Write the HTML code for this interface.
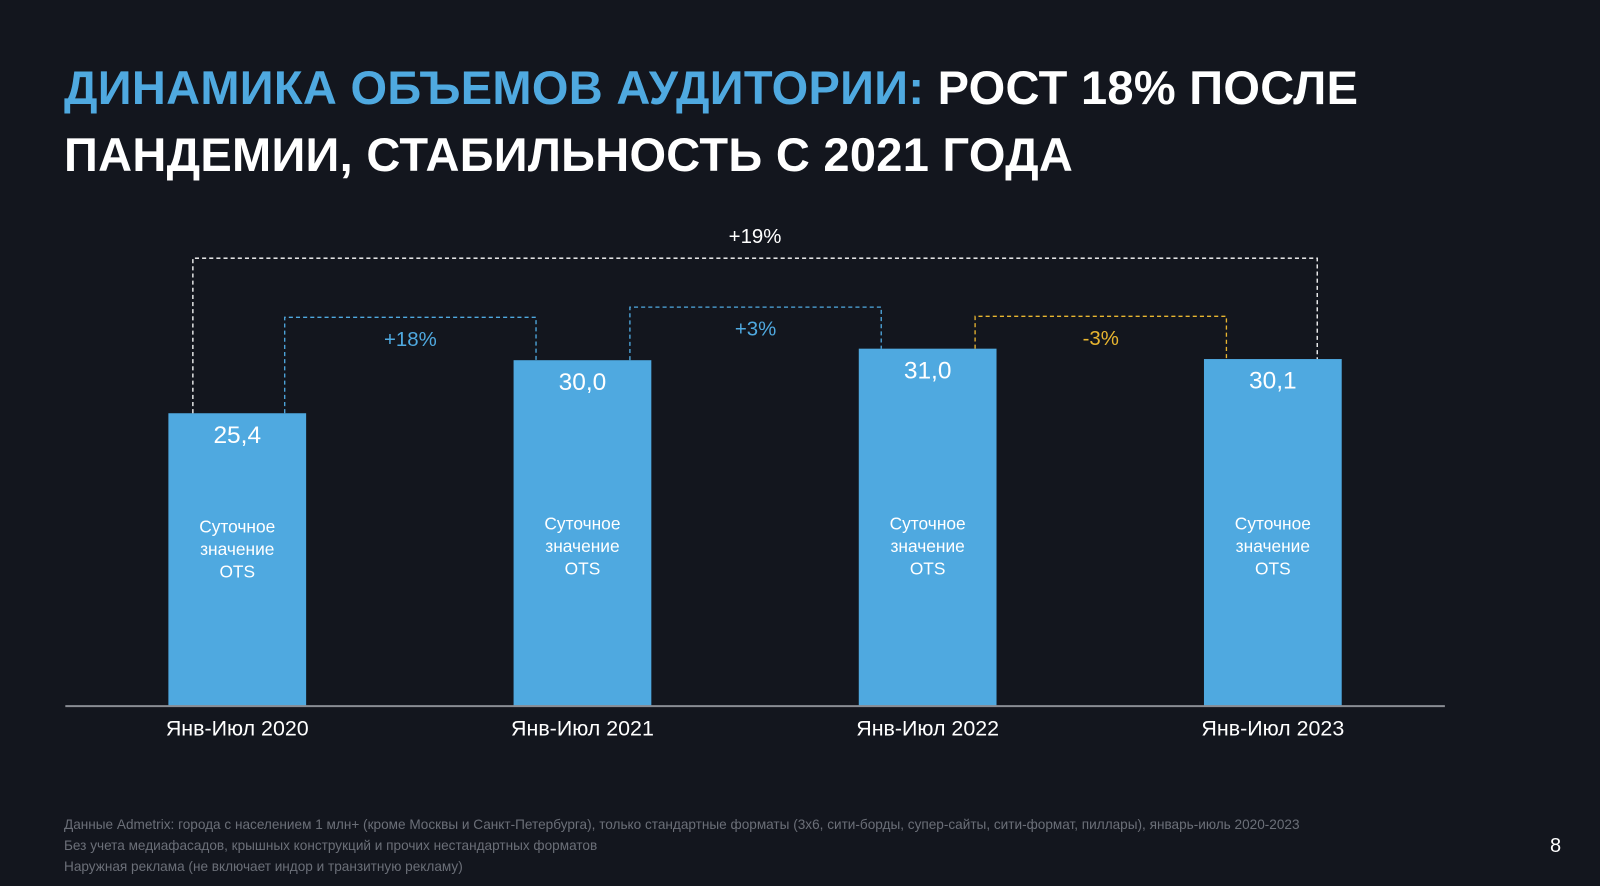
<!DOCTYPE html>
<html><head><meta charset="utf-8">
<style>
html,body{margin:0;padding:0;background:#13161e;width:1600px;height:886px;overflow:hidden;font-family:"Liberation Sans",sans-serif;}
.t{position:absolute;left:64px;top:54px;font-size:47px;font-weight:bold;line-height:67px;color:#fff;letter-spacing:0.3px}
.t span{color:#4fa9e0}
.foot{position:absolute;left:64px;top:814px;font-size:13.6px;line-height:21px;color:#6b6f78}
.pg{position:absolute;left:1550px;top:835px;font-size:20px;color:#fff}
</style></head><body>
<div class="t"><span>ДИНАМИКА ОБЪЕМОВ АУДИТОРИИ:</span> РОСТ 18% ПОСЛЕ<br>ПАНДЕМИИ, СТАБИЛЬНОСТЬ С 2021 ГОДА</div>
<svg id="c" width="1600" height="886" viewBox="0 0 1568 868.3" style="position:absolute;left:0;top:0"></svg>
<div class="foot">Данные Admetrix: города с населением 1 млн+ (кроме Москвы и Санкт-Петербурга), только стандартные форматы (3х6, сити-борды, супер-сайты, сити-формат, пиллары), январь-июль 2020-2023<br>Без учета медиафасадов, крышных конструкций и прочих нестандартных форматов<br>Наружная реклама (не включает индор и транзитную рекламу)</div>
<div class="pg">8</div>
<script>
const categories=["Янв-Июл 2020","Янв-Июл 2021","Янв-Июл 2022","Янв-Июл 2023"];
const values=[25.4,30.0,31.0,30.1];
const valueLabels=["25,4","30,0","31,0","30,1"];
const brackets=[
 {from:0,to:3,label:"+19%",color:"#ffffff",level:253},
 {from:0,to:1,label:"+18%",color:"#4fa9e0",level:311},
 {from:1,to:2,label:"+3%",color:"#4fa9e0",level:301},
 {from:2,to:3,label:"-3%",color:"#e8b530",level:310}
];
const NS="http://www.w3.org/2000/svg";
const svg=document.getElementById('c');
const base=692,scale=11.3,x0=165,step=338.3,bw=135;
const y=v=>base-v*scale;
const x=i=>x0+i*step;
function mk(t,a,p){const e=document.createElementNS(NS,t);for(const k in a)e.setAttribute(k,a[k]);(p||svg).appendChild(e);return e;}
values.forEach((v,i)=>{
 const r=mk('rect',{x:x(i),y:y(v),width:bw,height:base-y(v),fill:'#4fa9e0'});
 
 
 const t=mk('text',{x:x(i)+bw/2,y:y(v)+29,fill:'#fff','font-size':24,'text-anchor':'middle'});t.textContent=valueLabels[i];
 
 
 ["Суточное","значение","OTS"].forEach((s,j)=>{const l=mk('text',{x:x(i)+bw/2,y:(i==0?522:519)+j*22,fill:'#fff','font-size':17,'text-anchor':'middle'});l.textContent=s;});
 const c=mk('text',{x:x(i)+bw/2,y:721,fill:'#fff','font-size':21,'text-anchor':'middle'});c.textContent=categories[i];
 
 
});
const ax=mk('line',{x1:64,x2:1416,y1:base,y2:base,stroke:'#8a8d94','stroke-width':2});


brackets.forEach(b=>{
 const big=b.from==0&&b.to==3;
 const xa=big?x(b.from)+24:x(b.from)+114, xb=big?x(b.to)+111:x(b.to)+22;
 const p=mk('polyline',{points:`${xa},${y(values[b.from])} ${xa},${b.level} ${xb},${b.level} ${xb},${y(values[b.to])}`,fill:'none',stroke:b.color,'stroke-width':1.3,'stroke-dasharray':'4,3'});
 
 
 const t=mk('text',{x:(xa+xb)/2,y:b.level-15,fill:b.color,'font-size':20,'text-anchor':'middle'});t.textContent=b.label;
 if(!big)t.setAttribute('y',b.level+28);
 
 
});
</script>
</body></html>
